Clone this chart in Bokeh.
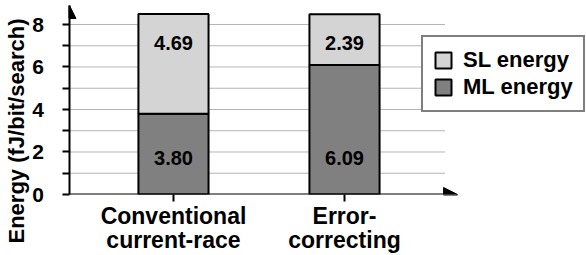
from bokeh.plotting import figure
from bokeh.models import (ColumnDataSource, FixedTicker, Legend, LegendItem, Title,
                          Arrow, NormalHead, Range1d)
from bokeh.core.properties import value
from bokeh.embed import file_html
from bokeh.resources import INLINE

# ---------------- data ----------------
categories = ["Conventional\ncurrent-race", "Error-\ncorrecting"]
ml_energy = [3.80, 6.09]
sl_energy = [4.69, 2.39]
series_names = ["SL energy", "ML energy"]
y_ticks = [0, 1, 2, 3, 4, 5, 6, 7, 8]
y_tick_labels = ["0", "", "2", "", "4", "", "6", "", "8"]
grid_values = [1, 2, 3, 4, 5, 6, 7, 8]
y_label = "Energy (fJ/bit/search)"

# ---------------- styles / layout ----------------
FONT = "Liberation Sans"
SL_COLOR = "#d4d4d4"
ML_COLOR = "#808080"
X_START, X_END = 0.392, 3.415
Y_START, Y_END = 0.0, 8.894
GRID_END = 2.59
X_ARROW_END = 2.661
BAR_W = 0.41
LABEL_PAD = "  "   # widens the y-axis label column so the title sits further left

xs = list(range(1, len(categories) + 1))
totals = [m + s for m, s in zip(ml_energy, sl_energy)]
src = ColumnDataSource(dict(
    x=xs, ml=ml_energy, sl=sl_energy, total=totals,
    zero=[0.0] * len(xs),
    ml_txt=[f"{v:.2f}" for v in ml_energy],
    sl_txt=[f"{v:.2f}" for v in sl_energy],
))

p = figure(frame_width=517, frame_height=189,
           x_range=Range1d(X_START, X_END), y_range=Range1d(Y_START, Y_END),
           output_backend="svg", toolbar_location=None,
           min_border_left=69, min_border_right=0, min_border_top=5, min_border_bottom=0)
p.outline_line_color = None
p.xgrid.visible = False
p.ygrid.visible = False
p.background_fill_color = "white"
p.border_fill_color = "white"

# dotted grid lines
gsrc = ColumnDataSource(dict(y=grid_values, x0=[X_START] * len(grid_values),
                             x1=[GRID_END] * len(grid_values)))
p.segment(x0="x0", y0="y", x1="x1", y1="y", source=gsrc,
          line_color="#6a6a6a", line_width=1, line_dash="1 1")

# stacked bars
r_ml = p.vbar(x="x", bottom="zero", top="ml", width=BAR_W, source=src,
              fill_color=ML_COLOR, line_color="black", line_width=2)
r_sl = p.vbar(x="x", bottom="ml", top="total", width=BAR_W, source=src,
              fill_color=SL_COLOR, line_color="black", line_width=2)

# value labels
p.text(x="x", y="zero", text="ml_txt", source=src, text_align="center",
       text_baseline="middle", y_offset=-37, text_font=value(FONT),
       text_font_style="bold", text_font_size="20px", text_color="black")
p.text(x="x", y="total", text="sl_txt", source=src, text_align="center",
       text_baseline="middle", y_offset=29, text_font=value(FONT),
       text_font_style="bold", text_font_size="20px", text_color="black")

# axes
xa = p.xaxis[0]
xa.ticker = FixedTicker(ticks=xs)
xa.major_label_overrides = {x: c for x, c in zip(xs, categories)}
xa.axis_line_color = None
xa.major_tick_out = 7
xa.major_tick_in = 0
xa.major_tick_line_width = 2
xa.minor_tick_line_color = None
xa.major_label_standoff = 1
xa.major_label_text_font = FONT
xa.major_label_text_font_style = "bold"
xa.major_label_text_font_size = "23px"
xa.major_label_text_color = "black"
xa.major_label_text_line_height = 0.95

ya = p.yaxis[0]
ya.ticker = FixedTicker(ticks=y_ticks)
ya.major_label_overrides = {t: (LABEL_PAD + l if l else l) for t, l in zip(y_ticks, y_tick_labels)}
ya.axis_line_width = 2
ya.axis_line_color = "black"
ya.major_tick_out = 7
ya.major_tick_in = 0
ya.major_tick_line_width = 2
ya.minor_tick_line_color = None
ya.major_label_standoff = 7
ya.major_label_text_font = FONT
ya.major_label_text_font_style = "bold"
ya.major_label_text_font_size = "21px"
ya.major_label_text_color = "black"

# axis arrows
p.add_layout(Arrow(x_start=X_START, y_start=0, x_end=X_ARROW_END, y_end=0,
                   line_width=2, line_color="black",
                   end=NormalHead(size=14, fill_color="black", line_color="black", line_width=1)))
p.add_layout(Arrow(x_start=X_START, y_start=Y_END - 0.6, x_end=X_START, y_end=Y_END,
                   line_width=2, line_color="black",
                   end=NormalHead(size=13, fill_color="black", line_color="black", line_width=1)))

# y-axis title (side title, anchored at its start so it can be offset along the axis)
p.add_layout(Title(text=y_label, align="left", offset=-49, standoff=2,
                   text_font=FONT, text_font_style="bold", text_font_size="22px",
                   text_color="black"), "left")

# legend
legend = Legend(items=[LegendItem(label=series_names[0], renderers=[r_sl]),
                       LegendItem(label=series_names[1], renderers=[r_ml])],
                location=(352, 82), orientation="vertical",
                border_line_color="black", border_line_width=2,
                background_fill_color="white", background_fill_alpha=1,
                glyph_width=20, glyph_height=20, label_standoff=10,
                label_text_font=FONT, label_text_font_style="bold",
                label_text_font_size="22px", label_text_color="black",
                label_text_line_height=1.0, label_height=20,
                padding=10, spacing=1, margin=0)
p.add_layout(legend, "center")

open("out.html", "w").write(file_html(p, INLINE))
